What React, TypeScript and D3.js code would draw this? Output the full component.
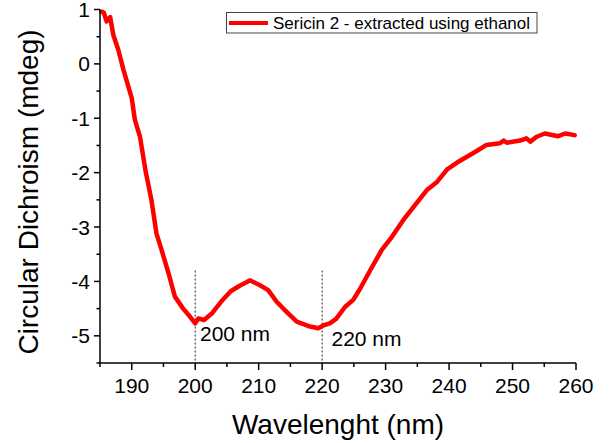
import React from "react";
import * as d3 from "d3";

const wavelength = [185.3, 185.6, 186.05, 186.6, 187.1, 187.9, 188.7, 190.0, 190.5, 191.3, 192.2, 193.1, 193.9, 194.7, 195.8, 196.8, 198.1, 199.2, 200.0, 200.5, 201.4, 202.7, 204.1, 205.6, 207.0, 208.0, 208.6, 209.5, 210.2, 211.5, 212.8, 214.4, 216.0, 218.1, 219.4, 220.2, 221.2, 222.2, 223.6, 224.9, 226.0, 227.6, 229.4, 231.0, 232.8, 234.6, 236.5, 238.1, 239.7, 241.6, 244.1, 245.9, 248.0, 248.6, 249.1, 251.2, 252.2, 252.8, 253.8, 255.1, 257.2, 258.3, 259.8];
const cd = [0.96, 0.94, 0.78, 0.86, 0.53, 0.25, -0.11, -0.63, -1.03, -1.34, -1.98, -2.5, -3.12, -3.42, -3.85, -4.28, -4.5, -4.65, -4.77, -4.68, -4.71, -4.58, -4.37, -4.18, -4.08, -4.02, -3.98, -4.03, -4.07, -4.16, -4.37, -4.56, -4.74, -4.83, -4.86, -4.81, -4.77, -4.69, -4.47, -4.34, -4.13, -3.79, -3.42, -3.18, -2.87, -2.6, -2.32, -2.17, -1.94, -1.79, -1.62, -1.49, -1.46, -1.41, -1.45, -1.41, -1.37, -1.43, -1.34, -1.28, -1.33, -1.28, -1.31];

const xTicks = [190, 200, 210, 220, 230, 240, 250, 260];
const xMinor = [185, 195, 205, 215, 225, 235, 245, 255];
const yTicks = [1, 0, -1, -2, -3, -4, -5];
const yMinor = [0.5, -0.5, -1.5, -2.5, -3.5, -4.5, -5.5];
const markers = [
  { x: 200, label: "200 nm" },
  { x: 220, label: "220 nm" },
];
const seriesName = "Sericin 2 - extracted using ethanol";

export default function App() {
  const W = 609, H = 443;
  const x = d3.scaleLinear().domain([185, 260]).range([100, 576]);
  const y = d3.scaleLinear().domain([-5.5, 1]).range([363, 9.5]);
  const pts = wavelength.map((w, i) => [w, cd[i]] as [number, number]);
  const line = d3.line<[number, number]>().x(d => x(d[0])).y(d => y(d[1])).curve(d3.curveLinear);
  const font = "Arial, 'Liberation Sans', sans-serif";
  const x0 = x(185), y0 = y(-5.5);
  return (
    <svg width={W} height={H} style={{ position: "absolute", left: 0, top: 0, background: "#fff" }} fontFamily={font}>
      <rect x={0} y={0} width={W} height={H} fill="#fff" />
      {/* marker dotted lines */}
      {markers.map((m, i) => (
        <line key={"m" + i} x1={x(m.x)} x2={x(m.x)} y1={y(-3.8)} y2={y0} stroke="#222" strokeWidth={1} strokeDasharray="2,2" />
      ))}
      <path d={line(pts) || ""} fill="none" stroke="#ff0000" strokeWidth={4.5} strokeLinejoin="round" strokeLinecap="round" />
      {/* axes */}
      <line x1={x0} x2={x0} y1={y(1)} y2={y0} stroke="#000" strokeWidth={1.5} />
      <line x1={x0} x2={x(260)} y1={y0} y2={y0} stroke="#000" strokeWidth={1.5} />
      {xTicks.map(t => (
        <g key={"xt" + t}>
          <line x1={x(t)} x2={x(t)} y1={y0} y2={y0 + 7} stroke="#000" strokeWidth={1.5} />
          <text x={x(t)} y={393} fontSize={21} textAnchor="middle" fill="#000">{t}</text>
        </g>
      ))}
      {xMinor.map(t => (
        <line key={"xm" + t} x1={x(t)} x2={x(t)} y1={y0} y2={y0 + 4} stroke="#000" strokeWidth={1.5} />
      ))}
      {yTicks.map(t => (
        <g key={"yt" + t}>
          <line x1={x0 - 6} x2={x0} y1={y(t)} y2={y(t)} stroke="#000" strokeWidth={1.5} />
          <text x={90} y={y(t) + 7.5} fontSize={21} textAnchor="end" fill="#000">{t < 0 ? "-" + Math.abs(t) : t}</text>
        </g>
      ))}
      {yMinor.map(t => (
        <line key={"ym" + t} x1={x0 - 3.5} x2={x0} y1={y(t)} y2={y(t)} stroke="#000" strokeWidth={1.5} />
      ))}
      {/* marker labels */}
      <text x={200} y={341} fontSize={21} fill="#000">{markers[0].label}</text>
      <text x={331.5} y={346} fontSize={21} fill="#000">{markers[1].label}</text>
      {/* axis titles */}
      <text x={338} y={434} fontSize={28} textAnchor="middle" fill="#000">Wavelenght (nm)</text>
      <text transform={`translate(38, 192) rotate(-90)`} fontSize={28} textAnchor="middle" fill="#000">Circular Dichroism (mdeg)</text>
      {/* legend */}
      <rect x={226.5} y={12.5} width={310.5} height={20.5} fill="#fff" stroke="#444" strokeWidth={1} />
      <line x1={229} x2={268} y1={23} y2={23} stroke="#ff0000" strokeWidth={4} />
      <text x={273} y={29} fontSize={17} fill="#000">{seriesName}</text>
    </svg>
  );
}
